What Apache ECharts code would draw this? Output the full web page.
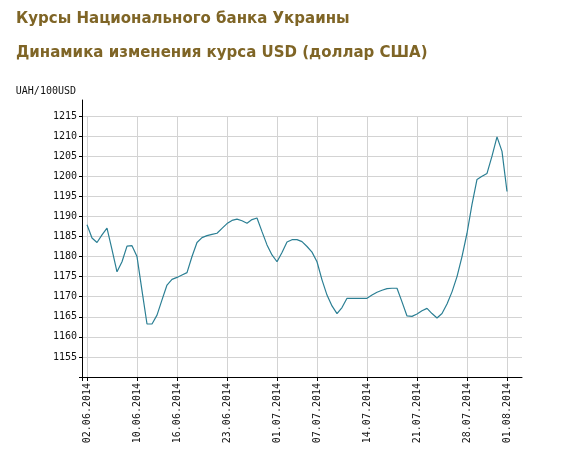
<!DOCTYPE html>
<html>
   <head>
      <meta charset="utf-8">
      <script type="text/javascript" src="https://cdn.jsdelivr.net/npm/echarts@6/dist/echarts.min.js"></script>
      <title>Курсы НБУ</title>
      <style>
         html, body {margin: 0; padding: 0; background: #fff;}
      </style>
   </head>
   <body>
      <div id="chart" style="width:588px;height:457px"></div>
      <script type="text/javascript">
         // two readings per business day, 02.06.2014 .. 01.08.2014
         var values = [
            1187.9, 1184.6, 1183.5, 1185.4, 1187.1, 1181.7, 1176.2, 1178.7, 1182.6, 1182.7,
            1180.0, 1171.5, 1163.2, 1163.2, 1165.4, 1169.2, 1172.9, 1174.3, 1174.8, 1175.4,
            1176.0, 1180.0, 1183.5, 1184.7, 1185.2, 1185.5, 1185.8, 1187.0, 1188.2, 1189.0,
            1189.3, 1188.9, 1188.3, 1189.2, 1189.6, 1186.2, 1182.9, 1180.4, 1178.7, 1181.0,
            1183.6, 1184.2, 1184.2, 1183.7, 1182.5, 1181.1, 1178.7, 1174.2, 1170.4, 1167.7,
            1165.8, 1167.3, 1169.6, 1169.6, 1169.6, 1169.6, 1169.6, 1170.4, 1171.1, 1171.6,
            1172.0, 1172.1, 1172.1, 1168.7, 1165.2, 1165.1, 1165.7, 1166.5, 1167.1, 1165.8,
            1164.7, 1165.8, 1168.2, 1171.2, 1175.0, 1180.0, 1185.8, 1193.0, 1199.2, 1200.0,
            1200.7, 1205.0, 1209.8, 1206.2, 1196.2
         ];
         var tickDates = ["02.06.2014", "10.06.2014", "16.06.2014", "23.06.2014", "01.07.2014",
                          "07.07.2014", "14.07.2014", "21.07.2014", "28.07.2014", "01.08.2014"];
         var tickPos = [0, 10, 18, 28, 38, 46, 56, 66, 76, 84];

         // category slots: one empty before the data, three after
         var cats = [""];
         for (var i = 0; i < values.length; ++i) cats.push("");
         for (var i = 0; i < tickPos.length; ++i) cats[tickPos[i] + 1] = tickDates[i];
         cats.push("", "", "");
         var seriesData = [null].concat(values);

         var labelFont = {fontFamily: "DejaVu Sans Mono", fontSize: 10, color: "#111"};
         var titleColor = "#7f6526";

         var option = {
            animation: false,
            title: [
               {text: "Курсы Национального банка Украины", left: 11, top: 7,
                textStyle: {fontFamily: "DejaVu Sans", fontWeight: "bold", fontSize: 15, color: titleColor}},
               {text: "Динамика изменения курса USD (доллар США)", left: 11, top: 41,
                textStyle: {fontFamily: "DejaVu Sans", fontWeight: "bold", fontSize: 15, color: titleColor}}
            ],
            grid: [
               {left: 82, top: 116, right: 66, bottom: 80},
               {left: 82, top: 100, right: 66, height: 16}
            ],
            xAxis: [
               {
                  type: "category",
                  gridIndex: 0,
                  data: cats,
                  boundaryGap: false,
                  axisLine: {lineStyle: {color: "#000", width: 1}},
                  axisTick: {
                     length: 4,
                     interval: function(i, v){ return i === 0 || v !== ""; },
                     lineStyle: {color: "#000"}
                  },
                  axisLabel: {
                     interval: function(i, v){ return v !== ""; },
                     rotate: 90,
                     margin: 6,
                     fontFamily: labelFont.fontFamily,
                     fontSize: labelFont.fontSize,
                     color: labelFont.color
                  },
                  splitLine: {
                     show: true,
                     interval: function(i, v){ return v !== ""; },
                     lineStyle: {color: "#d3d3d3", width: 1}
                  }
               },
               {type: "category", gridIndex: 1, data: cats, show: false}
            ],
            yAxis: [
               {
                  type: "value",
                  gridIndex: 0,
                  min: 1150,
                  max: 1215,
                  interval: 5,
                  axisLine: {show: true, lineStyle: {color: "#000", width: 1}},
                  axisTick: {show: true, length: 3, lineStyle: {color: "#000"}},
                  axisLabel: {
                     margin: 5,
                     fontFamily: labelFont.fontFamily,
                     fontSize: labelFont.fontSize,
                     color: labelFont.color,
                     formatter: function(v){ return v > 1150 ? String(v) : ""; }
                  },
                  splitLine: {show: true, showMinLine: false, lineStyle: {color: "#d3d3d3", width: 1}}
               },
               {
                  type: "value",
                  gridIndex: 1,
                  min: 0,
                  max: 1,
                  name: "UAH/100USD",
                  nameLocation: "end",
                  nameGap: 9,
                  nameTextStyle: {
                     fontFamily: labelFont.fontFamily,
                     fontSize: labelFont.fontSize,
                     color: labelFont.color,
                     align: "right",
                     verticalAlign: "middle",
                     padding: [0, 6, 0, 0]
                  },
                  axisLine: {show: true, lineStyle: {color: "#000", width: 1}},
                  axisTick: {show: false},
                  axisLabel: {show: false},
                  splitLine: {show: false}
               }
            ],
            series: [
               {
                  type: "line",
                  xAxisIndex: 0,
                  yAxisIndex: 0,
                  data: seriesData,
                  showSymbol: false,
                  symbol: "none",
                  lineStyle: {color: "#2b7f94", width: 1.2},
                  emphasis: {disabled: true}
               }
            ]
         };

         var myChart = echarts.init(document.getElementById("chart"));
         myChart.setOption(option);
      </script>
   </body>
</html>
